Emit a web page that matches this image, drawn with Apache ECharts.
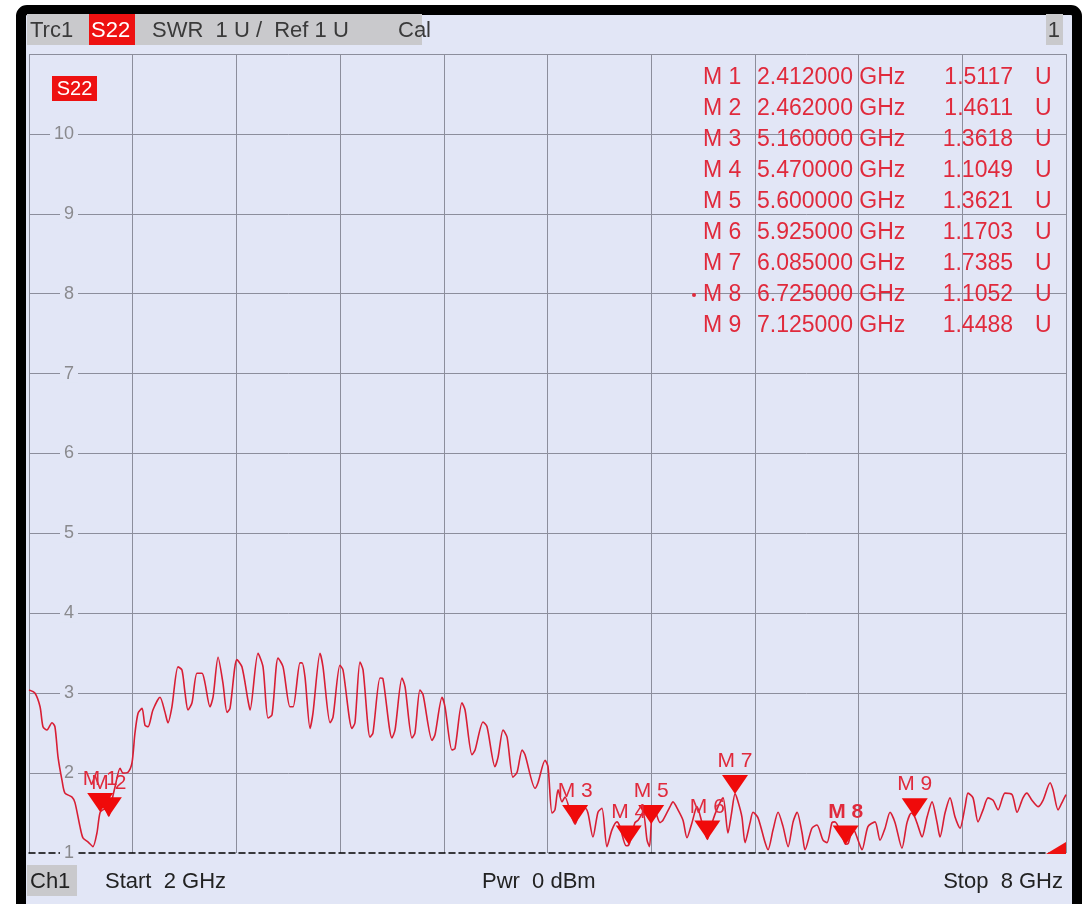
<!DOCTYPE html>
<html>
<head>
<meta charset="utf-8">
<script src="https://cdn.jsdelivr.net/npm/echarts@6/dist/echarts.min.js"></script>
<style>
html,body{margin:0;padding:0;background:#ffffff;}
#chart{width:1086px;height:904px;}
</style>
</head>
<body>
<div id="chart"></div>
<script>
// ---- Trace data (frequency in GHz, SWR in U) ----
const freqGHz = [
 2.000,2.035,2.064,2.081,2.104,2.133,2.150,2.168,2.191,2.208,
 2.249,2.266,2.295,2.312,2.341,2.370,2.393,2.412,2.440,2.462,
 2.480,2.498,2.527,2.544,2.573,2.596,2.613,2.631,2.654,2.671,
 2.689,2.717,2.758,2.787,2.804,2.827,2.862,2.885,2.903,2.920,
 2.943,2.972,3.001,3.018,3.047,3.065,3.094,3.122,3.146,3.163,
 3.203,3.232,3.267,3.279,3.325,3.354,3.383,3.406,3.441,3.470,
 3.510,3.528,3.568,3.580,3.597,3.626,3.643,3.684,3.701,3.742,
 3.759,3.799,3.817,3.869,3.886,3.915,3.933,3.973,3.990,4.031,
 4.048,4.100,4.118,4.158,4.176,4.216,4.233,4.262,4.280,4.332,
 4.349,4.390,4.407,4.447,4.465,4.505,4.523,4.563,4.581,4.627,
 4.650,4.696,4.714,4.743,4.766,4.800,4.824,4.853,4.870,4.928,
 4.945,4.986,5.003,5.026,5.043,5.061,5.084,5.101,5.140,5.160,
 5.188,5.217,5.234,5.263,5.292,5.315,5.344,5.373,5.402,5.419,
 5.455,5.470,5.485,5.506,5.524,5.553,5.576,5.590,5.600,5.610,
 5.622,5.651,5.668,5.709,5.726,5.755,5.784,5.807,5.836,5.865,
 5.894,5.925,5.952,5.987,6.016,6.044,6.065,6.085,6.100,6.125,
 6.143,6.172,6.189,6.218,6.259,6.276,6.305,6.334,6.363,6.392,
 6.421,6.444,6.473,6.490,6.530,6.559,6.594,6.617,6.646,6.663,
 6.704,6.725,6.740,6.768,6.797,6.820,6.854,6.895,6.924,6.953,
 6.982,7.011,7.051,7.080,7.105,7.125,7.145,7.167,7.196,7.225,
 7.254,7.271,7.300,7.329,7.358,7.387,7.416,7.433,7.462,7.491,
 7.520,7.549,7.578,7.607,7.647,7.688,7.717,7.751,7.774,7.803,
 7.838,7.867,7.908,7.925,7.954,7.983,8.000
];
const swrU = [
 3.04,3.00,2.83,2.58,2.54,2.63,2.58,2.20,1.91,1.75,
 1.70,1.63,1.33,1.19,1.14,1.08,1.25,1.51,1.55,1.46,
 1.66,1.83,2.06,2.00,2.01,2.13,2.50,2.75,2.81,2.60,
 2.58,2.79,2.95,2.76,2.63,2.83,3.33,3.29,3.00,2.79,
 2.88,3.25,3.25,3.13,2.83,2.95,3.45,3.13,2.76,2.81,
 3.42,3.33,2.91,2.79,3.50,3.33,2.69,2.73,3.44,3.33,
 2.83,2.83,3.38,3.38,3.20,2.56,2.75,3.50,3.33,2.63,
 2.70,3.35,3.29,2.56,2.63,3.39,3.29,2.45,2.50,3.19,
 3.18,2.44,2.54,3.19,3.08,2.44,2.50,3.04,2.98,2.41,
 2.48,2.95,2.83,2.29,2.31,2.88,2.79,2.23,2.29,2.64,
 2.58,2.08,2.20,2.54,2.45,1.95,2.01,2.29,2.23,1.81,
 1.88,2.16,2.08,1.50,1.54,1.79,1.64,1.70,1.45,1.36,
 1.54,1.56,1.50,1.20,1.51,1.56,1.08,1.29,1.39,1.33,
 1.09,1.10,1.20,1.38,1.41,1.51,1.16,1.08,1.36,1.58,
 1.54,1.38,1.41,1.58,1.64,1.54,1.41,1.19,1.38,1.58,
 1.38,1.17,1.38,1.58,1.69,1.25,1.50,1.74,1.66,1.45,
 1.13,1.38,1.51,1.44,1.13,1.04,1.29,1.51,1.33,1.08,
 1.39,1.51,1.25,1.04,1.31,1.35,1.16,1.13,1.38,1.39,
 1.22,1.11,1.12,1.31,1.16,1.04,1.33,1.39,1.16,1.31,
 1.51,1.38,1.06,1.38,1.50,1.45,1.33,1.20,1.45,1.64,
 1.38,1.20,1.50,1.69,1.45,1.31,1.58,1.75,1.69,1.39,
 1.54,1.69,1.66,1.54,1.75,1.73,1.51,1.69,1.75,1.66,
 1.58,1.66,1.88,1.79,1.54,1.66,1.73
];

// ---- Markers ----
const markerNames = ['M 1','M 2','M 3','M 4','M 5','M 6','M 7','M 8','M 9'];
const markerFreq  = [2.412, 2.462, 5.160, 5.470, 5.600, 5.925, 6.085, 6.725, 7.125];
const markerSwr   = [1.5117, 1.4611, 1.3618, 1.1049, 1.3621, 1.1703, 1.7385, 1.1052, 1.4488];
const activeMarker = 7;

// ---- Header / footer texts ----
const headerTrace = 'Trc1';
const headerParam = 'S22';
const headerFormat = 'SWR  1 U /  Ref 1 U';
const headerCal = 'Cal';
const headerWin = '1';
const footerCh = 'Ch1';
const footerStart = 'Start  2 GHz';
const footerPwr = 'Pwr  0 dBm';
const footerStop = 'Stop  8 GHz';

const BG = '#e2e6f6';
const GRID = '#8c8e9c';
const TRACE = '#d81e34';
const MK = '#f00a0a';
const TXT_RED = '#e02a3c';
const FONT = "'Liberation Sans', Arial, sans-serif";

const chart = echarts.init(document.getElementById('chart'));

const traceData = freqGHz.map((f, i) => [f, swrU[i]]);
const markerData = markerFreq.map((f, i) => ({
  value: [f, markerSwr[i]],
  name: markerNames[i],
  label: { fontWeight: i === activeMarker ? 'bold' : 'normal' }
}));

// graphic elements
const graphics = [];
// panel background + frame
graphics.push({ type: 'rect', z: -20, shape: { x: 21, y: 10, width: 1056, height: 900, r: 6 },
  style: { fill: BG, stroke: '#000', lineWidth: 10 } });
// header boxes
graphics.push({ type: 'rect', z: 10, shape: { x: 27, y: 14, width: 395, height: 31 }, style: { fill: '#c9c9cc' } });
graphics.push({ type: 'rect', z: 11, shape: { x: 89, y: 14, width: 46, height: 31 }, style: { fill: '#ee1111' } });
graphics.push({ type: 'rect', z: 10, shape: { x: 1046, y: 14, width: 17, height: 31 }, style: { fill: '#c9c9cc' } });
const hdr = (t, x, fill, align) => ({ type: 'text', z: 12, x: x, y: 31,
  style: { text: t, fill: fill, font: '22px ' + FONT, align: align || 'left', verticalAlign: 'middle' } });
graphics.push(hdr(headerTrace, 30, '#3a3a3a'));
graphics.push(hdr(headerParam, 91, '#ffffff'));
graphics.push(hdr(headerFormat, 152, '#3a3a3a'));
graphics.push(hdr(headerCal, 398, '#3a3a3a'));
graphics.push(hdr(headerWin, 1060, '#3a3a3a', 'right'));
// S22 tag inside plot
graphics.push({ type: 'rect', z: 10, shape: { x: 52, y: 76, width: 45, height: 25 }, style: { fill: '#ee1111' } });
graphics.push({ type: 'text', z: 12, x: 74.5, y: 89,
  style: { text: headerParam, fill: '#ffffff', font: '20px ' + FONT, align: 'center', verticalAlign: 'middle' } });
// footer
graphics.push({ type: 'rect', z: 10, shape: { x: 27, y: 865, width: 50, height: 31 }, style: { fill: '#c9c9cc' } });
const ftr = (t, x, align) => ({ type: 'text', z: 12, x: x, y: 882,
  style: { text: t, fill: '#222222', font: '22px ' + FONT, align: align || 'left', verticalAlign: 'middle' } });
graphics.push(ftr(footerCh, 30));
graphics.push(ftr(footerStart, 105));
graphics.push(ftr(footerPwr, 482));
graphics.push(ftr(footerStop, 1063, 'right'));
// marker table
markerNames.forEach((n, i) => {
  const y = 78 + i * 31;
  const st = (t, align) => ({ text: t, fill: TXT_RED, font: '23px ' + FONT, align: align, verticalAlign: 'middle' });
  graphics.push({ type: 'text', z: 12, x: 703, y: y, style: st(n, 'left') });
  graphics.push({ type: 'text', z: 12, x: 757, y: y, style: st(markerFreq[i].toFixed(6) + ' GHz', 'left') });
  graphics.push({ type: 'text', z: 12, x: 1013, y: y, style: st(markerSwr[i].toFixed(4), 'right') });
  graphics.push({ type: 'text', z: 12, x: 1035, y: y, style: st('U', 'left') });
  if (i === activeMarker) {
    graphics.push({ type: 'circle', z: 12, shape: { cx: 694, cy: y, r: 2 }, style: { fill: TXT_RED } });
  }
});
// over-range indicator at bottom right
graphics.push({ type: 'polygon', z: 12, shape: { points: [[1046, 854], [1066, 854], [1066, 842]] }, style: { fill: '#ee1111' } });

const yGridColors = ['rgba(0,0,0,0)'].concat(Array(10).fill(GRID));

chart.setOption({
  animation: false,
  backgroundColor: '#ffffff',
  grid: { left: 29, right: 20, top: 54, bottom: 51 },
  xAxis: [
    { type: 'value', min: 2, max: 8,
      axisLine: { show: true, lineStyle: { color: '#000', type: [6, 4], width: 1.5 } },
      axisTick: { show: false }, axisLabel: { show: false }, splitLine: { show: false } },
    { type: 'value', min: 0, max: 10, interval: 1, position: 'bottom',
      axisLine: { show: false }, axisTick: { show: false }, axisLabel: { show: false },
      splitLine: { show: true, lineStyle: { color: GRID, width: 1 } } }
  ],
  yAxis: {
    type: 'value', min: 1, max: 11, interval: 1,
    axisLine: { show: false }, axisTick: { show: false },
    axisLabel: {
      inside: true, margin: 49, align: 'right', color: '#8a8a8e', fontSize: 18,
      fontFamily: FONT, backgroundColor: BG, padding: [0, 4],
      formatter: v => (v >= 11 ? '' : String(v))
    },
    splitLine: { show: true, lineStyle: { color: yGridColors, width: 1 } }
  },
  series: [
    { type: 'line', data: traceData, xAxisIndex: 0, showSymbol: false, smooth: 0.25,
      lineStyle: { color: TRACE, width: 1.6 }, z: 3 },
    { type: 'scatter', data: markerData, xAxisIndex: 0, z: 5,
      symbol: 'path://M0,0 L26,0 L13,19 Z', symbolSize: [26, 19], symbolOffset: [0, -9.5],
      itemStyle: { color: MK, opacity: 1 },
      label: { show: true, position: 'top', distance: 3, color: TXT_RED, fontSize: 21,
        fontFamily: FONT, formatter: p => p.name } }
  ],
  graphic: graphics
});
</script>
</body>
</html>
